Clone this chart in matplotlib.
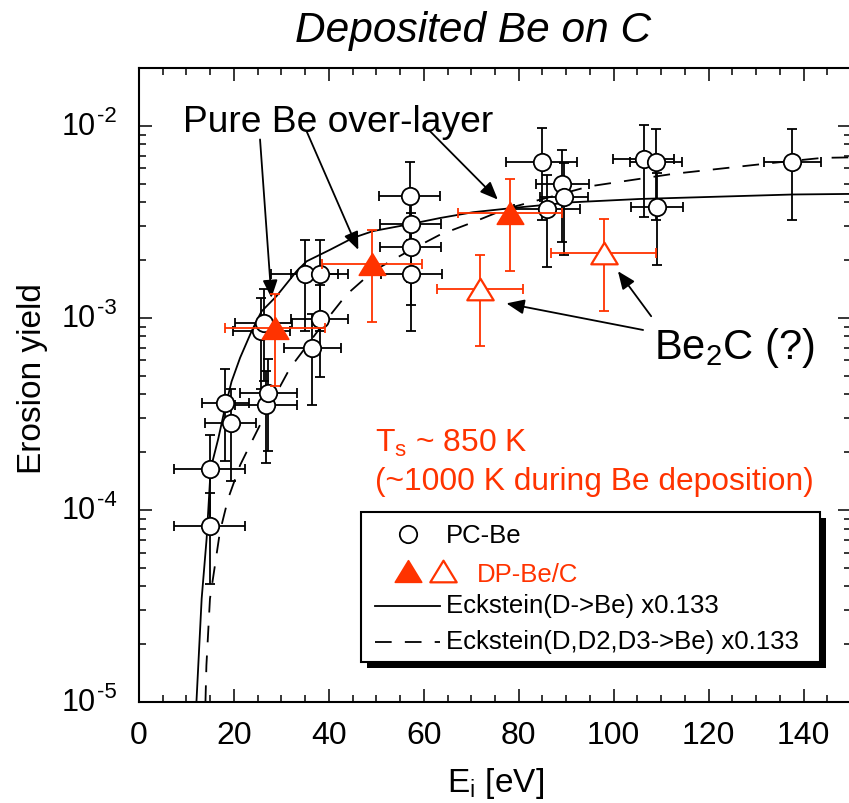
import numpy as np
import matplotlib
matplotlib.use('Agg')
import matplotlib.pyplot as plt
from matplotlib.patches import Rectangle
from matplotlib.lines import Line2D
from matplotlib.path import Path
from matplotlib import transforms
from matplotlib.ticker import MultipleLocator, LogLocator, NullFormatter, FixedLocator

plt.rcParams['font.family'] = ['Liberation Sans', 'DejaVu Sans']
plt.rcParams['mathtext.fontset'] = 'custom'
plt.rcParams['mathtext.rm'] = 'Liberation Sans'
plt.rcParams['mathtext.it'] = 'Liberation Sans:italic'
plt.rcParams['mathtext.default'] = 'regular'
plt.rcParams['lines.scale_dashes'] = False

RED = '#ff3300'

# ---------------- data ----------------
# PC-Be (open circles), relative y error 50 %
pc_E = [14.9, 14.9, 18.2, 19.3, 26.7, 27.2, 25.8, 26.3, 34.9, 38.1, 38.1, 36.5,
        57.0, 57.2, 57.2, 57.4, 84.8, 89.2, 89.5, 86.0, 106.3, 109.0, 109.1, 137.6]
pc_Y = [8.2e-5, 1.64e-4, 3.6e-4, 2.83e-4, 3.52e-4, 4.05e-4, 8.5e-4, 9.4e-4,
        1.70e-3, 1.70e-3, 9.9e-4, 7.0e-4, 4.3e-3, 3.08e-3, 2.34e-3, 1.70e-3,
        6.49e-3, 4.98e-3, 4.25e-3, 3.7e-3, 6.73e-3, 6.45e-3, 3.78e-3, 6.45e-3]
pc_xerr = [7.5, 7.5, 5.0, 5.3, 6.5, 6.0, 6.0, 6.0, 7.0, 6.0, 6.0, 6.0,
           6.5, 6.5, 6.5, 6.5, 7.5, 5.5, 5.0, 7.0, 6.5, 5.5, 5.5, 6.0]
pc_rel = 0.5

# DP-Be/C filled triangles
dpf_E = [28.6, 49.1, 78.1]
dpf_Y = [8.83e-4, 1.91e-3, 3.51e-3]
dpf_xerr = [10.5, 10.6, 11.0]
# DP-Be/C open triangles (Be2C ?)
dpo_E = [71.8, 97.9]
dpo_Y = [1.42e-3, 2.18e-3]
dpo_xerr = [9.0, 11.0]
dp_rel = 0.5

# Eckstein curves
ecks1_E = [12.1, 13.2, 14.25, 15.1, 16.7, 18.1, 19.5, 21.3, 23.7, 25.8, 29.0,
           33.2, 35.3, 40.2, 45.1, 49.3, 57.2, 63.4, 70.4, 79.5, 91.4, 105.5, 137.8, 150.0]
ecks1_Y = [1.0e-5, 3.45e-5, 7.1e-5, 1.64e-4, 2.35e-4, 3.38e-4, 4.66e-4, 6.2e-4,
           8.5e-4, 1.08e-3, 1.30e-3, 1.75e-3, 1.97e-3, 2.26e-3, 2.61e-3, 2.83e-3,
           3.08e-3, 3.31e-3, 3.55e-3, 3.75e-3, 4.0e-3, 4.16e-3, 4.39e-3, 4.42e-3]
ecks2_E = [14.0, 14.2, 14.95, 16.0, 17.05, 18.8, 21.3, 23.4, 25.5, 27.6, 31.8,
           33.9, 38.1, 43.7, 49.3, 56.4, 63.4, 70.4, 77.4, 94.9, 112.5, 118.1,
           133.5, 144.0, 150.0]
ecks2_Y = [1.0e-5, 1.55e-5, 3.45e-5, 5.15e-5, 7.7e-5, 1.15e-4, 1.71e-4, 2.18e-4,
           2.77e-4, 3.52e-4, 5.47e-4, 6.41e-4, 8.83e-4, 1.32e-3, 1.75e-3, 2.2e-3,
           2.71e-3, 3.15e-3, 3.7e-3, 4.84e-3, 5.62e-3, 5.82e-3, 6.41e-3, 6.81e-3, 6.85e-3]

ytick_vals = [1e-5, 1e-4, 1e-3, 1e-2]
ytick_exps = ['-5', '-4', '-3', '-2']

# ---------------- figure ----------------
W, H = 849, 804
fig = plt.figure(figsize=(W / 100, H / 100), dpi=100)
ax = fig.add_axes([139 / W, 1 - 703 / H, (851 - 139) / W, (703 - 69) / H])


def P(x, y):
    return (x / W, 1 - y / H)


ax.set_yscale('log')
ax.set_xlim(0, 150)
ax.set_ylim(1e-5, 2e-2)

DASH = (0, (12, 9.5))
ax.plot(ecks1_E, ecks1_Y, color='black', lw=1.3, zorder=2)
ax.plot(ecks2_E, ecks2_Y, color='black', lw=1.3, linestyle=DASH, zorder=2)


def yerr_of(Y, rel):
    Y = np.asarray(Y)
    return np.vstack([Y * rel, Y * rel])


ax.errorbar(pc_E, pc_Y, xerr=pc_xerr, yerr=yerr_of(pc_Y, pc_rel), fmt='o',
            ms=12.5, mfc='white', mec='black', mew=1.3, ecolor='black',
            elinewidth=1.3, capsize=3.6, capthick=1.3, zorder=3)

tri_v = [(0, 0.82), (-1, -0.82), (1, -0.82), (0, 0.82)]
tri = Path(tri_v, closed=True)
ax.errorbar(dpo_E, dpo_Y, xerr=dpo_xerr, yerr=yerr_of(dpo_Y, dp_rel), fmt='none',
            ecolor=RED, elinewidth=1.3, capsize=3.6, capthick=1.3, zorder=4)
ax.plot(dpo_E, dpo_Y, linestyle='none', marker=tri, ms=19, mfc='white',
        mec=RED, mew=1.6, zorder=5)
ax.errorbar(dpf_E, dpf_Y, xerr=dpf_xerr, yerr=yerr_of(dpf_Y, dp_rel), fmt='none',
            ecolor=RED, elinewidth=1.3, capsize=3.6, capthick=1.3, zorder=4)
ax.plot(dpf_E, dpf_Y, linestyle='none', marker=tri, ms=19, mfc=RED,
        mec=RED, mew=1.2, zorder=5)

# ---------------- axes styling ----------------
for s in ax.spines.values():
    s.set_linewidth(1.5)
ax.xaxis.set_major_locator(MultipleLocator(20))
ax.xaxis.set_minor_locator(MultipleLocator(5))
ax.yaxis.set_major_locator(FixedLocator(ytick_vals))
ax.yaxis.set_minor_locator(LogLocator(base=10, subs=np.arange(2, 10), numticks=20))
ax.yaxis.set_major_formatter(NullFormatter())
ax.yaxis.set_minor_formatter(NullFormatter())
ax.tick_params(which='both', direction='in', top=True, right=True, width=1.1)
ax.tick_params(which='major', length=9.5, labelsize=23)
ax.tick_params(which='minor', length=5)
ax.tick_params(axis='x', which='major', pad=13)

# y tick labels 10^-n drawn as base + superscript
base_tr = transforms.blended_transform_factory(fig.transFigure, ax.transData)
tr_base = base_tr + transforms.ScaledTranslation(0, -8 / 100, fig.dpi_scale_trans)
tr_sup = base_tr + transforms.ScaledTranslation(0, 5 / 100, fig.dpi_scale_trans)
for v, e in zip(ytick_vals, ytick_exps):
    fig.text(96 / W, v, '10', transform=tr_base, ha='right', va='baseline', fontsize=22)
    fig.text(97 / W, v, e, transform=tr_sup, ha='left', va='baseline', fontsize=16)

fig.text(*P(496, 792), 'E$_\\mathregular{i}$ [eV]', ha='center', va='baseline', fontsize=24)
fig.text(*P(33, 379), 'Erosion yield', ha='center', va='center', rotation=90, fontsize=24)
fig.text(*P(473, 42), 'Deposited Be on C', ha='center', va='baseline',
         fontsize=30.5, fontstyle='italic')

# ---------------- annotations ----------------
aprops = dict(arrowstyle='-|>,head_length=0.6,head_width=0.25', mutation_scale=18,
              lw=1.3, color='black', shrinkA=0, shrinkB=0)
ax.text(9.26, 9.41e-3, 'Pure Be over-layer', fontsize=26.7, ha='left', va='baseline')
ax.annotate('', xy=(27.9, 1.27e-3), xytext=(25.5, 8.49e-3), arrowprops=aprops)
ax.annotate('', xy=(46.2, 2.26e-3), xytext=(35.3, 9.38e-3), arrowprops=aprops)
ax.annotate('', xy=(75.6, 4.13e-3), xytext=(61.3, 9.38e-3), arrowprops=aprops)

ax.text(108.6, 6.17e-4, 'Be$_2$C (?)', fontsize=30, ha='left', va='baseline')
ax.annotate('', xy=(100.9, 1.75e-3), xytext=(107.9, 1.02e-3), arrowprops=aprops)
ax.annotate('', xy=(77.4, 1.19e-3), xytext=(106.2, 8.65e-4), arrowprops=aprops)

ax.text(49.7, 2.02e-4, 'T$_\\mathregular{s}$ ~ 850 K', color=RED, fontsize=22.9,
        ha='left', va='baseline')
ax.text(49.7, 1.29e-4, '(~1000 K during Be deposition)', color=RED, fontsize=22.9,
        ha='left', va='baseline')

# ---------------- legend (drawn by hand) ----------------
x0, x1, y0, y1 = 361, 820, 513, 663
off = 6
fig.add_artist(Rectangle(P(x0 + off, y1 + off), (x1 - x0) / W, (y1 - y0) / H,
                         transform=fig.transFigure, facecolor='black',
                         edgecolor='black', lw=0, zorder=10))
fig.add_artist(Rectangle(P(x0, y1), (x1 - x0) / W, (y1 - y0) / H,
                         transform=fig.transFigure, facecolor='white',
                         edgecolor='black', lw=1.5, zorder=11))
fig.add_artist(Line2D([P(407.7, 535)[0]], [P(407.7, 535)[1]], transform=fig.transFigure,
                      marker='o', ms=12.5, mfc='white', mec='black', mew=1.3,
                      linestyle='none', zorder=12))
fig.add_artist(Line2D([P(407.7, 572)[0]], [P(407.7, 572)[1]], transform=fig.transFigure,
                      marker=tri, ms=19, mfc=RED, mec=RED, mew=1.2,
                      linestyle='none', zorder=12))
fig.add_artist(Line2D([P(443, 572)[0]], [P(443, 572)[1]], transform=fig.transFigure,
                      marker=tri, ms=19, mfc='white', mec=RED, mew=1.6,
                      linestyle='none', zorder=12))
fig.add_artist(Line2D([375 / W, 440 / W], [P(0, 607.3)[1]] * 2, transform=fig.transFigure,
                      color='black', lw=1.3, zorder=12))
fig.add_artist(Line2D([375 / W, 440 / W], [P(0, 643.3)[1]] * 2, transform=fig.transFigure,
                      color='black', lw=1.3, linestyle=DASH, zorder=12))
LFS = 18.5
fig.text(*P(446, 543), 'PC-Be', fontsize=LFS, va='baseline', ha='left', zorder=12)
fig.text(*P(477, 582), 'DP-Be/C', fontsize=LFS, va='baseline', ha='left', color=RED, zorder=12)
fig.text(*P(446, 613), 'Eckstein(D->Be) x0.133', fontsize=LFS, va='baseline', ha='left', zorder=12)
fig.text(*P(446, 649), 'Eckstein(D,D2,D3->Be) x0.133', fontsize=LFS, va='baseline',
         ha='left', zorder=12)

fig.savefig('out.png', dpi=100)
